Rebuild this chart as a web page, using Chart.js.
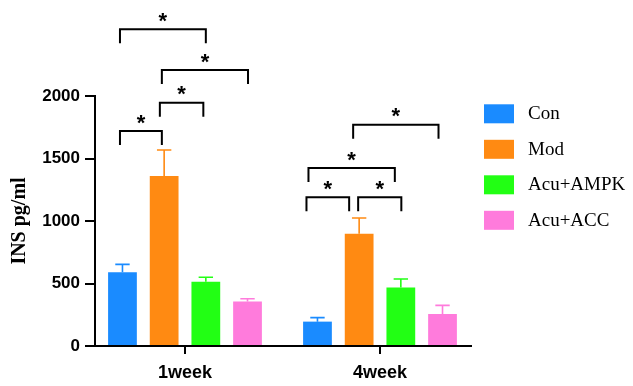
<!DOCTYPE html>
<html>
<head>
<meta charset="utf-8">
<script src="https://cdn.jsdelivr.net/npm/chart.js@4/dist/chart.umd.min.js"></script>
<style>
  html, body { margin: 0; padding: 0; background: #fff; }
  #wrap { width: 633px; height: 386px; }
</style>
</head>
<body>
<div id="wrap"><canvas id="c" width="633" height="386"></canvas></div>
<script>
// Time points on the x axis
const categories = ['1week', '4week'];

// Group names, means and upper SD (INS pg/ml)
const seriesNames = ['Con', 'Mod', 'Acu+AMPK', 'Acu+ACC'];
const conValues  = [590, 195];
const modValues  = [1360, 899];
const ampkValues = [515, 469];
const accValues  = [357, 256];
const conErr  = [63, 32];
const modErr  = [208, 125];
const ampkErr = [35, 67];
const accErr  = [21, 69];

// Y tick values
const yTicks = [0, 500, 1000, 1500, 2000];

// Significant comparisons: time point, the two groups, bracket height (pg/ml)
const comparisons = [
  { group: 0, from: 0, to: 1, level: 1720 },
  { group: 0, from: 1, to: 2, level: 1946 },
  { group: 0, from: 1, to: 3, level: 2208 },
  { group: 0, from: 0, to: 2, level: 2534 },
  { group: 1, from: 0, to: 1, level: 1190 },
  { group: 1, from: 1, to: 2, level: 1190 },
  { group: 1, from: 0, to: 2, level: 1424 },
  { group: 1, from: 1, to: 3, level: 1770 }
];

// Styling
const colors = ['#1a8bff', '#ff8a12', '#22ff14', '#ff7bdc'];
const bracketNudge = [
  [-2.5, -2.3], [-4.3, -2.5], [-2.3, 0.5], [-2.5, 0],
  [-11, -10], [-1, 0.5], [-9, -6], [-6, -4]
];
const legLen = 14;

const values = [conValues, modValues, ampkValues, accValues];
const errors = [conErr, modErr, ampkErr, accErr];

const datasets = seriesNames.map((name, i) => ({
  label: name,
  data: values[i].map((v, k) => ({ x: k, y: v })),
  backgroundColor: colors[i],
  borderWidth: 0
}));

const errorBarPlugin = {
  id: 'errorBars',
  afterDatasetsDraw(chart) {
    const { ctx, scales: { y } } = chart;
    ctx.save();
    ctx.lineWidth = 1.6;
    datasets.forEach((ds, i) => {
      const meta = chart.getDatasetMeta(i);
      ctx.strokeStyle = colors[i];
      meta.data.forEach((bar, k) => {
        const top = y.getPixelForValue(values[i][k] + errors[i][k]);
        const cap = bar.width * 0.5;
        ctx.beginPath();
        ctx.moveTo(bar.x, bar.y);
        ctx.lineTo(bar.x, top);
        ctx.moveTo(bar.x - cap / 2, top);
        ctx.lineTo(bar.x + cap / 2, top);
        ctx.stroke();
      });
    });
    ctx.restore();
  }
};

const bracketPlugin = {
  id: 'sigBrackets',
  afterDatasetsDraw(chart) {
    const { ctx, scales: { y } } = chart;
    ctx.save();
    ctx.strokeStyle = '#000';
    ctx.fillStyle = '#000';
    ctx.lineWidth = 2;
    ctx.lineJoin = 'miter';
    ctx.font = 'bold 22px "Liberation Sans", Arial, sans-serif';
    ctx.textAlign = 'center';
    ctx.textBaseline = 'alphabetic';
    const m = ctx.measureText('*');
    const glyphMid = (m.actualBoundingBoxAscent - m.actualBoundingBoxDescent) / 2;
    comparisons.forEach((c, k) => {
      const a = chart.getDatasetMeta(c.from).data[c.group];
      const b = chart.getDatasetMeta(c.to).data[c.group];
      const x1 = a.x + bracketNudge[k][0];
      const x2 = b.x + bracketNudge[k][1];
      const yy = y.getPixelForValue(c.level);
      ctx.beginPath();
      ctx.moveTo(x1, yy + legLen);
      ctx.lineTo(x1, yy);
      ctx.lineTo(x2, yy);
      ctx.lineTo(x2, yy + legLen);
      ctx.stroke();
      ctx.fillText('*', (x1 + x2) / 2, yy - 12 + glyphMid);
    });
    ctx.restore();
  }
};

const legendPlugin = {
  id: 'sideLegend',
  afterDraw(chart) {
    const { ctx, chartArea } = chart;
    const left = chartArea.right + 13;
    const top0 = chartArea.top + 8.3;
    const step = 35.5;
    ctx.save();
    ctx.font = '19px "Liberation Serif", "Times New Roman", serif';
    ctx.textAlign = 'left';
    ctx.textBaseline = 'middle';
    seriesNames.forEach((name, i) => {
      const t = top0 + i * step;
      ctx.fillStyle = colors[i];
      ctx.fillRect(left, t, 30, 19);
      ctx.fillStyle = '#000';
      ctx.fillText(name, left + 44, t + 10);
    });
    ctx.restore();
  }
};

new Chart(document.getElementById('c'), {
  type: 'bar',
  data: { datasets },
  options: {
    responsive: false,
    devicePixelRatio: 1,
    animation: false,
    events: [],
    layout: { padding: { top: 96, right: 162, left: 0, bottom: 0 } },
    datasets: { bar: { categoryPercentage: 0.855, barPercentage: 0.69, grouped: true } },
    plugins: { legend: { display: false }, tooltip: { enabled: false } },
    scales: {
      x: {
        type: 'linear',
        offset: false,
        min: -0.4615,
        max: 1.4667,
        afterFit(scale) { scale.height = 40; },
        afterBuildTicks(scale) { scale.ticks = categories.map((_, k) => ({ value: k })); },
        ticks: {
          callback: (v) => categories[v] ?? '',
          font: { family: '"Liberation Sans", Arial, sans-serif', size: 18, weight: 'bold' },
          color: '#000',
          padding: 8,
          maxRotation: 0
        },
        grid: { offset: false, drawOnChartArea: false, tickLength: 8, color: '#000', lineWidth: 2 },
        border: { color: '#000', width: 2 }
      },
      y: {
        min: 0,
        max: 2000,
        afterFit(scale) { scale.width = 95; },
        afterBuildTicks(scale) { scale.ticks = yTicks.map(v => ({ value: v })); },
        ticks: {
          callback: (v) => String(v),
          font: { family: '"Liberation Sans", Arial, sans-serif', size: 17, weight: 'bold' },
          color: '#000',
          padding: 5
        },
        grid: { drawOnChartArea: false, tickLength: 10, color: '#000', lineWidth: 2 },
        border: { color: '#000', width: 2 },
        title: {
          display: true,
          text: 'INS pg/ml',
          font: { family: '"Liberation Serif", "Times New Roman", serif', size: 20, weight: 'bold' },
          color: '#000',
          padding: { top: 8, bottom: 0 }
        }
      }
    }
  },
  plugins: [errorBarPlugin, bracketPlugin, legendPlugin]
});
</script>
</body>
</html>
